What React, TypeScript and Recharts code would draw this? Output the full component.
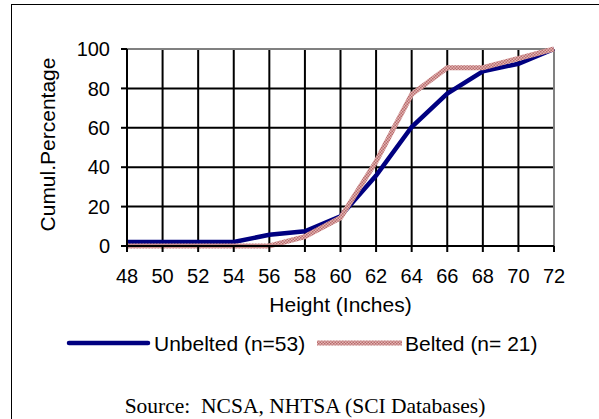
import { LineChart, Line, XAxis, YAxis, CartesianGrid, ReferenceLine, Label } from 'recharts';

// heights in inches, cumulative % of occupants
const heights = [48, 50, 52, 54, 56, 58, 60, 62, 64, 66, 68, 70, 72];
const unbelted = [2, 2, 2, 2, 5.7, 7.5, 15.1, 35.8, 60.4, 77.4, 88.7, 92.5, 100];
const belted = [0, 0, 0, 0, 0, 4.8, 14.3, 42.9, 77, 90.5, 90.5, 95.2, 100];
const yTicks = [0, 20, 40, 60, 80, 100];

const seriesNames = ['Unbelted (n=53)', 'Belted (n= 21)'];

const FONT = '"Liberation Sans", Arial, sans-serif';
const NAVY = '#000080';

const data = heights.map((h, i) => ({ height: h, unbelted: unbelted[i], belted: belted[i] }));

function YTitle({ viewBox }: { viewBox?: any }) {
  if (!viewBox) return null;
  const cx = viewBox.x + 47;
  const cy = viewBox.y + viewBox.height / 2 - 3;
  return (
    <text
      x={cx}
      y={cy}
      transform={`rotate(-90, ${cx}, ${cy})`}
      textAnchor="middle"
      dominantBaseline="central"
      fontFamily={FONT}
      fontSize={21}
      fill="#000"
    >
      Cumul.Percentage
    </text>
  );
}

function TexturePattern({ id }: { id: string }) {
  return (
    <pattern id={id} width="3" height="3" patternUnits="userSpaceOnUse">
      <rect width="3" height="3" fill="#e2b4b4" />
      <rect width="1.5" height="1.5" fill="#b86c6c" />
      <rect x="1.5" y="1.5" width="1.5" height="1.5" fill="#b86c6c" />
    </pattern>
  );
}

export default function App() {
  return (
    <div
      style={{
        position: 'absolute',
        left: 0,
        top: 0,
        width: 599,
        height: 419,
        overflow: 'hidden',
        background: '#fff',
      }}
    >
      {/* frame: only top and left edges are visible in the page */}
      <div
        style={{
          position: 'absolute',
          left: 11,
          top: 4,
          width: 588,
          height: 415,
          borderLeft: '1.5px solid #000',
          borderTop: '1.5px solid #000',
          boxSizing: 'border-box',
        }}
      />

      <div style={{ position: 'absolute', left: 0, top: 0 }}>
        <LineChart width={599} height={330} data={data} margin={{ top: 49, right: 45, left: 0, bottom: 18.5 }}>
          <defs>
            <TexturePattern id="beltedTex" />
          </defs>
          <CartesianGrid stroke="#000" strokeWidth={2} />
          <ReferenceLine y={100} stroke="#808080" strokeWidth={2} />
          <ReferenceLine x={72} stroke="#808080" strokeWidth={2} />
          <XAxis
            dataKey="height"
            type="number"
            domain={[48, 72]}
            ticks={heights}
            interval={0}
            height={65.5}
            tickSize={6}
            tickMargin={17}
            axisLine={{ stroke: '#000', strokeWidth: 2 }}
            tickLine={{ stroke: '#000', strokeWidth: 2 }}
            tick={{ fontSize: 20, fill: '#000', fontFamily: FONT }}
          >
            <Label
              value="Height (Inches)"
              position="insideBottom"
              offset={0}
              style={{ fontSize: 21, fill: '#000', fontFamily: FONT }}
            />
          </XAxis>
          <YAxis
            type="number"
            domain={[0, 100]}
            ticks={yTicks}
            interval={0}
            width={127}
            tickSize={6}
            tickMargin={11}
            axisLine={{ stroke: '#000', strokeWidth: 2 }}
            tickLine={{ stroke: '#000', strokeWidth: 2 }}
            tick={{ fontSize: 20, fill: '#000', fontFamily: FONT }}
          >
            <Label content={<YTitle />} />
          </YAxis>
          <Line
            dataKey="unbelted"
            name={seriesNames[0]}
            stroke={NAVY}
            strokeWidth={4.5}
            dot={false}
            isAnimationActive={false}
          />
          <Line
            dataKey="belted"
            name={seriesNames[1]}
            stroke="url(#beltedTex)"
            strokeWidth={5}
            dot={false}
            isAnimationActive={false}
          />
        </LineChart>
      </div>

      {/* legend */}
      <svg style={{ position: 'absolute', left: 0, top: 325 }} width={599} height={40}>
        <defs>
          <TexturePattern id="beltedTexLegend" />
        </defs>
        <line x1={69} y1={18} x2={148} y2={18} stroke={NAVY} strokeWidth={4.5} strokeLinecap="round" />
        <text x={154} y={26} fontFamily={FONT} fontSize={21} fill="#000">
          {seriesNames[0]}
        </text>
        <line x1={317} y1={18} x2={402} y2={18} stroke="url(#beltedTexLegend)" strokeWidth={5} />
        <text x={405} y={26} fontFamily={FONT} fontSize={21} fill="#000">
          {seriesNames[1]}
        </text>
      </svg>

      <div
        style={{
          position: 'absolute',
          left: 0,
          width: 610,
          top: 393,
          textAlign: 'center',
          fontFamily: '"Liberation Serif", "Times New Roman", serif',
          fontSize: 21.5,
          whiteSpace: 'pre',
          color: '#000',
          lineHeight: '26px',
        }}
      >
        {'Source:  NCSA, NHTSA (SCI Databases)'}
      </div>
    </div>
  );
}
